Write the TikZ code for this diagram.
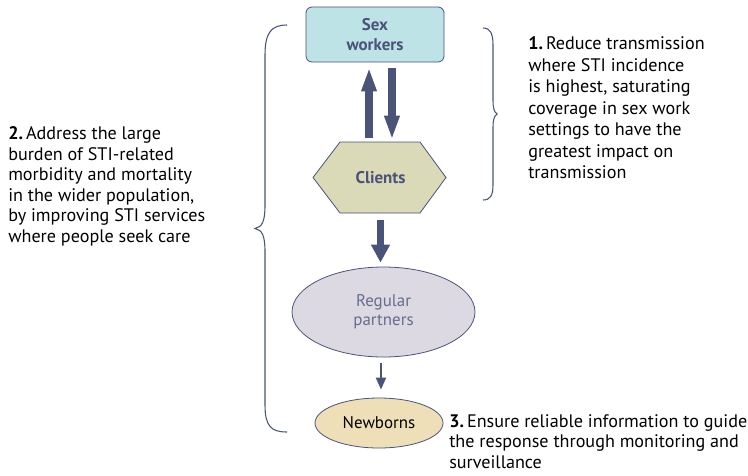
\documentclass[tikz,border=0pt]{standalone}
\usepackage{fontspec}
\setmainfont{PT Sans}
\usetikzlibrary{arrows.meta,shapes.geometric}

\definecolor{slate}{HTML}{4A5378}
\definecolor{swfill}{HTML}{BDE3E6}
\definecolor{clfill}{HTML}{DAD9B8}
\definecolor{rpfill}{HTML}{DCD9E2}
\definecolor{nbfill}{HTML}{EEDFB9}

\begin{document}
\begin{tikzpicture}[x=0.75pt, y=-0.75pt,
  group/.style={draw=slate, line width=0.6pt, align=center, inner sep=0pt, font=\fontsize{12.7}{14.5}\selectfont},
  fat/.style={slate, line width=6pt, -{Triangle[width=10.5pt,length=18pt]}},
  thin/.style={slate, line width=1.5pt, -{Triangle[width=7.5pt,length=9pt]}},
  brace/.style={slate, line width=0.8pt},
  goal/.style={anchor=north west, align=left, inner sep=0pt}]
\useasboundingbox (0,0) rectangle (748,475);

% the chain of groups
\node[group, fill=swfill, rectangle, rounded corners=4.5pt, minimum width=103.5pt, minimum height=41.25pt, text=slate, font=\fontsize{12.7}{14.5}\selectfont\bfseries] (sw) at (375,34.5) {Sex\\workers};
\fill[clfill] (313,177.5) -- (340,142) -- (420,142) -- (446,177.5) -- (420,213) -- (340,213) -- cycle;
\draw[slate, line width=0.6pt] (313,177.5) -- (340,142) -- (420,142) -- (446,177.5) -- (420,213) -- (340,213) -- cycle;
\node[inner sep=0pt, minimum width=99.75pt, minimum height=53.25pt, text=slate, font=\fontsize{12.7}{14.5}\selectfont\bfseries] (cl) at (380.5,177.5) {Clients};
\node[group, fill=rpfill, ellipse, minimum width=137.25pt, minimum height=67.5pt, text=slate!85] (rp) at (383.5,312) {Regular\\partners};
\node[group, fill=nbfill, ellipse, minimum width=96pt, minimum height=37.5pt] (nb) at (379,423) {Newborns};

% transmission arrows
\draw[fat, shorten <=3pt, shorten >=3.75pt] ([xshift=-8.6pt]cl.north) -- ([xshift=-8.6pt]cl.north |- sw.south);
\draw[fat, shorten <=4.5pt, shorten >=1.5pt] ([xshift=8.6pt]cl.north |- sw.south) -- ([xshift=8.6pt]cl.north);
\draw[slate, line width=5.5pt, -{Triangle[width=13.5pt,length=13.5pt]}, shorten <=5pt, shorten >=3pt] (cl.south) -- (cl.south |- rp.north);
\draw[thin, shorten <=4.5pt, shorten >=6pt] ([xshift=-1.9pt]rp.south) -- ([xshift=-1.9pt]rp.south |- nb.north);

% braces
\draw[brace] (287,25) .. controls (271,25) and (265,33) .. (265,55) -- (265,205) .. controls (265,222) and (262,227) .. (255,228.5) .. controls (262,230) and (265,235) .. (265,252) -- (265,405) .. controls (265,426) and (271,432) .. (287,432);
\draw[brace] (483,28) .. controls (490,28) and (493,33) .. (493,45) -- (493,100) .. controls (493,108) and (494,112) .. (497,114) .. controls (494,116) and (493,120) .. (493,128) -- (493,185) .. controls (493,196) and (490,200) .. (483,200);

% aims
\node[goal, font=\fontsize{13.6}{16.1}\selectfont] (g1) at (528,36.5) {\textbf{1.}\,Reduce transmission\\where STI incidence\\is highest, saturating\\coverage in sex work\\settings to have the\\greatest impact on\\transmission};
\node[goal, font=\fontsize{13.6}{15.4}\selectfont] (g2) at (8,126.5) {\textbf{2.}\,Address the large\\burden of STI-related\\morbidity and mortality\\in the wider population,\\by improving STI services\\where people seek care};
\node[goal, font=\fontsize{13.6}{15.2}\selectfont] (g3) at (449,414.5) {\textbf{3.}\,Ensure reliable information to guide\\the response through monitoring and\\surveillance};
\end{tikzpicture}
\end{document}
